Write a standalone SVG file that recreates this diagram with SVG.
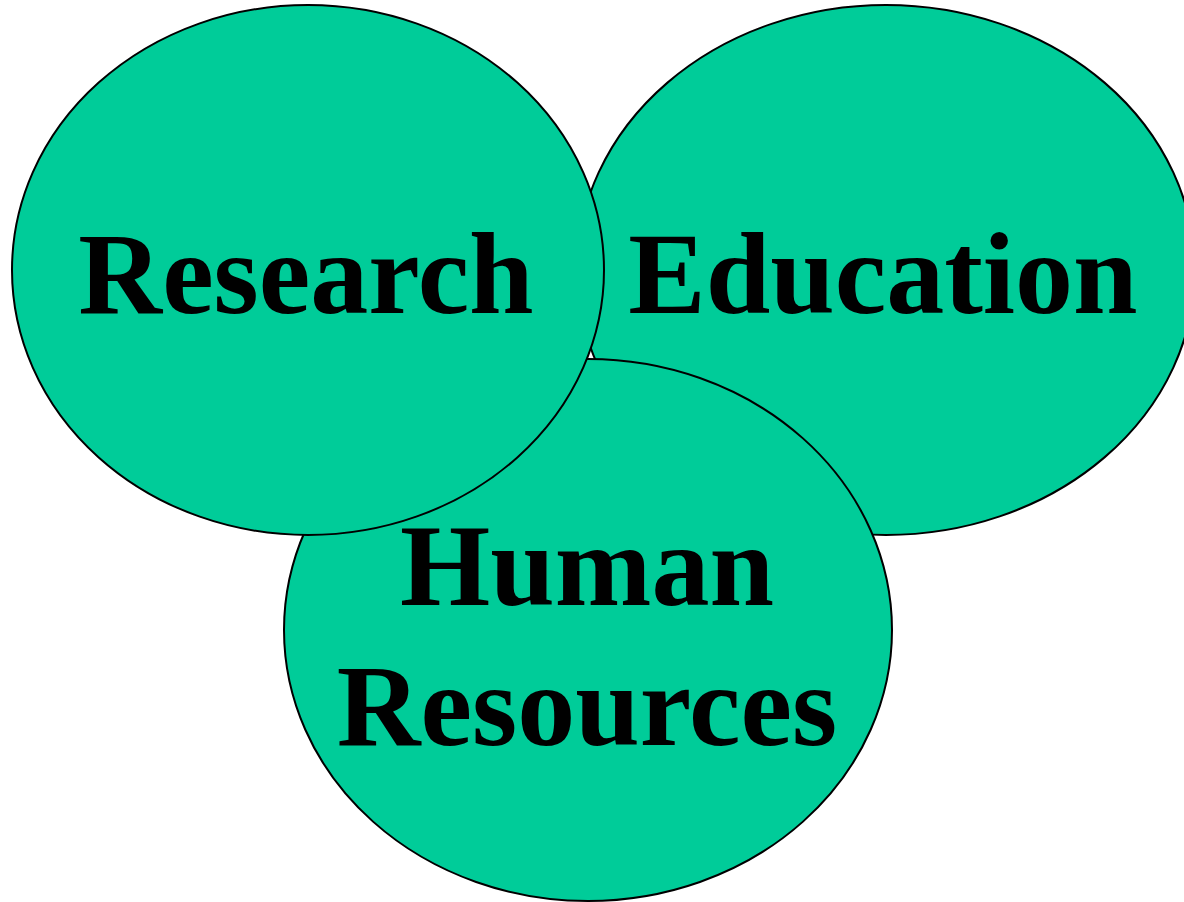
<svg xmlns="http://www.w3.org/2000/svg" width="1184" height="902" viewBox="0 0 1184 902">
<style>
.bub{fill:#00CC99;stroke:#000;stroke-width:2}
.lbl{font-family:"Liberation Serif","Times New Roman",serif;font-weight:bold;font-size:116px;fill:#000;text-anchor:middle}
</style>
<rect width="1184" height="902" fill="#fff"/>
<g id="education">
<ellipse class="bub" cx="886" cy="270" rx="309" ry="265"/>
<text class="lbl" x="883" y="313">Education</text>
</g>
<g id="human-resources">
<ellipse class="bub" cx="588" cy="630" rx="304" ry="271"/>
<text class="lbl" x="587" y="605">Human</text>
<text class="lbl" x="587" y="745">Resources</text>
</g>
<g id="research">
<ellipse class="bub" cx="308" cy="270" rx="296" ry="265"/>
<text class="lbl" x="306" y="313">Research</text>
</g>
<g id="connectors"></g>
</svg>
